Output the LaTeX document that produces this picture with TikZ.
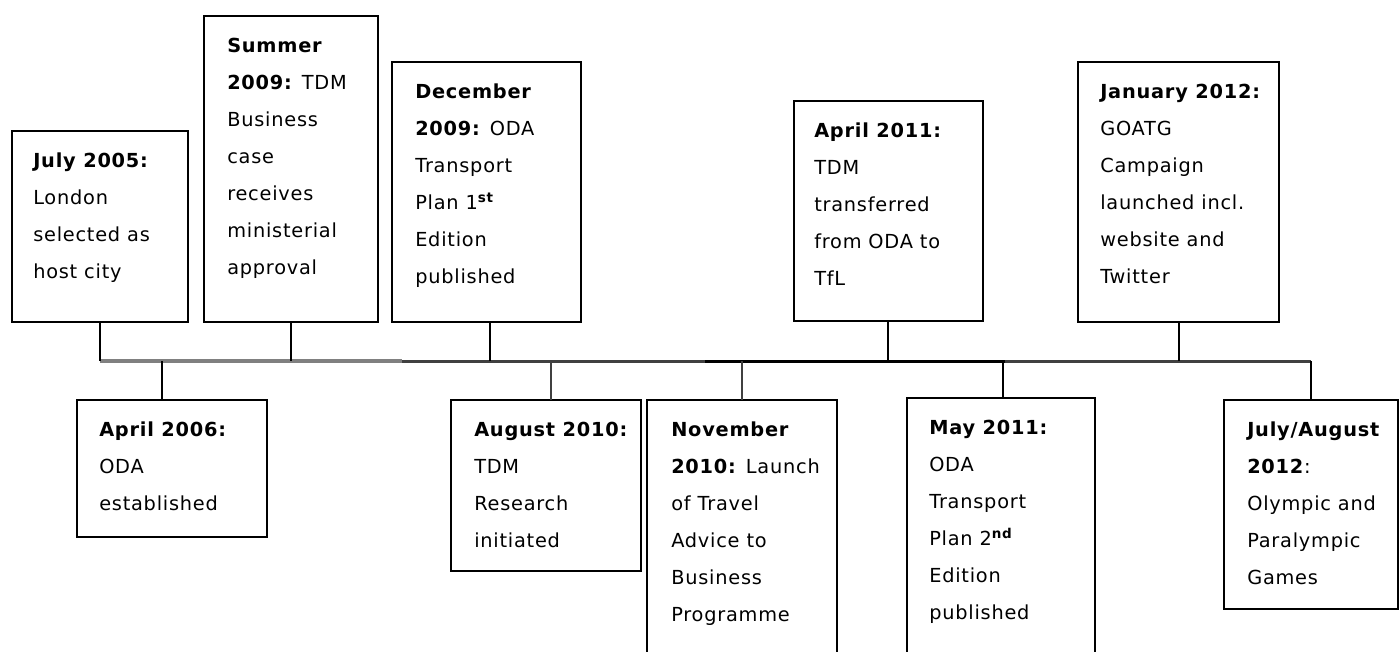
\documentclass[tikz,border=0pt]{standalone}
\usepackage{fontspec}
\setmainfont[LetterSpace=4]{DejaVu Sans}
\usetikzlibrary{positioning}

\newcommand\px{0.75pt}
\definecolor{lineGray}{HTML}{808080}
\definecolor{lineDark}{HTML}{404040}

\tikzset{
  evbox/.style={draw, line width=2pt, anchor=north west, inner sep=0pt, outer sep=0pt},
  evtext/.style={anchor=north west, inner sep=0pt, align=left, font=\fontsize{14.5}{27.75}\selectfont},
  stem/.style={line width=2pt},
}

\begin{document}
\begin{tikzpicture}[x=0.75pt, y=-0.75pt]
    \clip (0,0) rectangle (1399,652);

    % points on the time line
    \coordinate (c05) at (100,361);
    \coordinate (c06) at (162,361);
    \coordinate (c09a) at (291,361);
    \coordinate (c09b) at (490,361);
    \coordinate (c10a) at (551,361);
    \coordinate (c10b) at (742,361);
    \coordinate (c11a) at (888,361);
    \coordinate (c11b) at (1003,361);
    \coordinate (c12a) at (1179,361);
    \coordinate (c12b) at (1311,361);

    % events above the line
    \node[evbox, minimum width=176*\px, minimum height=191*\px] (jul05) at (12,131) {};
    \node[evtext, below right=22*\px and 21*\px of jul05.north west] (tjul05)
      {\textbf{July 2005:}\\London\\selected as\\host city};

    \node[evbox, minimum width=174*\px, minimum height=306*\px] (sum09) at (204,16) {};
    \node[evtext, below right=22*\px and 23*\px of sum09.north west] (tsum09)
      {\textbf{Summer}\\\textbf{2009:} TDM\\Business\\case\\receives\\ministerial\\approval};

    \node[evbox, minimum width=189*\px, minimum height=260*\px] (dec09) at (392,62) {};
    \node[evtext, below right=22*\px and 23*\px of dec09.north west] (tdec09)
      {\textbf{December}\\\textbf{2009:} ODA\\Transport\\Plan 1\textsuperscript{\textbf{st}}\\Edition\\published};

    \node[evbox, minimum width=189*\px, minimum height=220*\px] (apr11) at (794,101) {};
    \node[evtext, below right=22*\px and 20*\px of apr11.north west] (tapr11)
      {\textbf{April 2011:}\\TDM\\transferred\\from ODA to\\TfL};

    \node[evbox, minimum width=201*\px, minimum height=260*\px] (jan12) at (1078,62) {};
    \node[evtext, below right=22*\px and 22*\px of jan12.north west] (tjan12)
      {\textbf{January 2012:}\\GOATG\\Campaign\\launched incl.\\website and\\Twitter};

    % events below the line
    \node[evbox, minimum width=190*\px, minimum height=137*\px] (apr06) at (77,400) {};
    \node[evtext, below right=22*\px and 22*\px of apr06.north west] (tapr06)
      {\textbf{April 2006:}\\ODA\\established};

    \node[evbox, minimum width=190*\px, minimum height=171*\px] (aug10) at (451,400) {};
    \node[evtext, below right=22*\px and 23*\px of aug10.north west] (taug10)
      {\textbf{August 2010:}\\TDM\\Research\\initiated};

    \node[evbox, minimum width=190*\px, minimum height=300*\px] (nov10) at (647,400) {};
    \node[evtext, below right=22*\px and 24*\px of nov10.north west] (tnov10)
      {\textbf{November}\\\textbf{2010:} Launch\\of Travel\\Advice to\\Business\\Programme};

    \node[evbox, minimum width=188*\px, minimum height=300*\px] (may11) at (907,398) {};
    \node[evtext, below right=22*\px and 22*\px of may11.north west] (tmay11)
      {\textbf{May 2011:}\\ODA\\Transport\\Plan 2\textsuperscript{\textbf{nd}}\\Edition\\published};

    \node[evbox, minimum width=174*\px, minimum height=209*\px] (jul12) at (1224,400) {};
    \node[evtext, below right=22*\px and 23*\px of jul12.north west] (tjul12)
      {\textbf{July/August}\\\textbf{2012}:\\Olympic and\\Paralympic\\Games};

    % the time line
    \draw[line width=3pt, lineGray] (c05) -- (402,361) coordinate (g1);
    \draw[line width=2.25pt, lineDark] (g1) -- (705,361) coordinate (g2);
    \draw[line width=2.25pt] (g2) -- (1005,361) coordinate (g3);
    \draw[line width=2.25pt, lineDark] (g3) -- (c12b);

    % stems
    \draw[stem] (c05 |- jul05.south) -- (c05);
    \draw[stem] (c09a |- sum09.south) -- (c09a);
    \draw[stem] (c09b |- dec09.south) -- (c09b);
    \draw[stem] (c11a |- apr11.south) -- (c11a);
    \draw[stem] (c12a |- jan12.south) -- (c12a);
    \draw[stem] (c06) -- (c06 |- apr06.north);
    \draw[stem, lineDark] (c10a) -- (c10a |- aug10.north);
    \draw[stem, lineDark] (c10b) -- (c10b |- nov10.north);
    \draw[stem] (c11b) -- (c11b |- may11.north);
    \draw[stem] (c12b) -- (c12b |- jul12.north);
\end{tikzpicture}
\end{document}
